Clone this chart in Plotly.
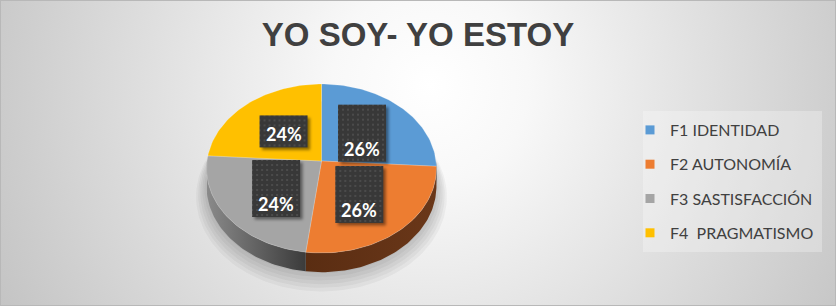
import math
import base64
import plotly.graph_objects as go

# ---------------- data ----------------
categories = ["F1 IDENTIDAD", "F2 AUTONOMÍA", "F3 SASTISFACCIÓN", "F4  PRAGMATISMO"]
values = [26, 26, 24, 24]
title_text = "YO SOY- YO ESTOY"

# ---------------- styles ----------------
top_colors = ["#5b9bd5", "#ed7d31", "#a5a5a5", "#ffc000"]
side_scales = [
    [[0, "#2f6493"], [1, "#264f75"]],
    [[0, "#5a2d12"], [1, "#6a3719"]],
    [[0, "#8a8a8a"], [1, "#3b3b3b"]],
    [[0, "#b38600"], [1, "#8a6700"]],
]
label_heights = [53, 53, 53, 28]
LABEL_W, LABEL_PAD = 44, 2

W, H = 836, 306
CX, CY = 321.5, 161.0      # pie centre (pixel-like axis units)
RA, RB = 114.5, 83.8        # radii of the tilted disc
K = 0.0888                  # perspective factor
DEPTH = 17.5                # thickness of the disc


def proj(theta_deg, r=1.0, drop=0.0):
    t = math.radians(theta_deg)
    u = r * math.sin(t)
    v = -r * math.cos(t)
    d = 1 - K * v
    return CX + RA * u / d, CY + (RB * v + drop) / d


def arc(a0, a1, r=1.0, drop=0.0, n=None):
    if n is None:
        n = max(2, int(abs(a1 - a0) / 1.5) + 2)
    pts = [proj(a0 + (a1 - a0) * i / (n - 1), r, drop) for i in range(n)]
    return [p[0] for p in pts], [p[1] for p in pts]


def box_svg(w, h):
    sw, sh = w + 10, h + 10
    s = (
        f'<svg xmlns="http://www.w3.org/2000/svg" width="{sw}" height="{sh}" '
        f'viewBox="0 0 {sw} {sh}">'
        '<defs>'
        '<filter id="b" x="-20%" y="-20%" width="140%" height="140%">'
        '<feGaussianBlur stdDeviation="1.6"/></filter>'
        '<pattern id="p" width="5" height="5" patternUnits="userSpaceOnUse">'
        '<rect width="5" height="5" fill="#383838"/>'
        '<rect x="1" y="1" width="2" height="2" fill="#4b4b4b"/>'
        '</pattern></defs>'
        f'<rect x="4.5" y="4.5" width="{w}" height="{h}" fill="rgba(0,0,0,0.45)" '
        'filter="url(#b)"/>'
        f'<rect x="2" y="2" width="{w}" height="{h}" fill="url(#p)"/>'
        '</svg>'
    )
    return "data:image/svg+xml;base64," + base64.b64encode(s.encode()).decode()


total = float(sum(values))
angles = []
acc = 0.0
for v in values:
    a0 = 360.0 * acc / total
    acc += v
    a1 = 360.0 * acc / total
    angles.append((a0, a1))

fig = go.Figure()

# soft shadow under the disc
for i in range(6):
    xs, ys = arc(0, 360, r=1.0 + 0.018 * i, drop=DEPTH + 1 + 1.6 * i, n=180)
    fig.add_trace(go.Scatter(x=xs, y=ys, mode="lines", fill="toself",
                             fillcolor="rgba(0,0,0,0.04)", line=dict(width=0),
                             hoverinfo="skip", showlegend=False))

# sides (front half of the disc)
for i, (a0, a1) in enumerate(angles):
    s0, s1 = max(a0, 90.0), min(a1, 270.0)
    if s1 <= s0:
        continue
    tx, ty = arc(s0, s1)
    bx, by = arc(s0, s1, drop=DEPTH)
    fig.add_trace(go.Scatter(
        x=tx + bx[::-1], y=ty + by[::-1], mode="lines", fill="toself",
        fillgradient=dict(type="horizontal", colorscale=side_scales[i]),
        line=dict(width=0), hoverinfo="skip", showlegend=False))

# top faces
for i, (a0, a1) in enumerate(angles):
    ax, ay = arc(a0, a1)
    fig.add_trace(go.Scatter(
        x=[CX] + ax + [CX], y=[CY] + ay + [CY], mode="lines", fill="toself",
        fillcolor=top_colors[i], line=dict(width=0.6, color="rgba(255,255,255,0.35)"),
        name=categories[i], hoverinfo="name", showlegend=False))

# legend entries
for i, c in enumerate(categories):
    fig.add_trace(go.Scatter(
        x=[None], y=[None], mode="markers", name=c, legendgroup=c,
        marker=dict(symbol="square", size=9, color=top_colors[i])))

# background gradient
svg = (
    f'<svg xmlns="http://www.w3.org/2000/svg" width="{W}" height="{H}" '
    f'viewBox="0 0 {W} {H}" preserveAspectRatio="none">'
    '<defs><radialGradient id="g" gradientUnits="userSpaceOnUse" '
    'cx="430" cy="85" r="490">'
    '<stop offset="0" stop-color="#ffffff"/>'
    '<stop offset="0.2" stop-color="#f8f8f8"/>'
    '<stop offset="1" stop-color="#c3c3c3"/>'
    '</radialGradient></defs>'
    f'<rect x="0" y="0" width="{W}" height="{H}" fill="url(#g)"/></svg>'
)
bg_src = "data:image/svg+xml;base64," + base64.b64encode(svg.encode()).decode()

images = [dict(source=bg_src, xref="paper", yref="paper", x=0, y=1,
               sizex=1, sizey=1, xanchor="left", yanchor="top",
               sizing="stretch", layer="below")]

# data labels (patterned boxes + text)
annotations = []
for i, (a0, a1) in enumerate(angles):
    lx, ly = proj((a0 + a1) / 2.0, 0.5)
    pct = f"{round(100 * values[i] / total)}%"
    bw = LABEL_W + 2 * LABEL_PAD
    bh = label_heights[i] + 2 * LABEL_PAD
    images.append(dict(source=box_svg(bw, bh), xref="x", yref="y",
                       x=lx + 3, y=ly + 3, sizex=bw + 10, sizey=bh + 10,
                       xanchor="center", yanchor="middle", sizing="stretch",
                       layer="above"))
    annotations.append(dict(
        x=lx, y=ly, xref="x", yref="y", text=pct, showarrow=False,
        width=LABEL_W, height=label_heights[i], borderpad=LABEL_PAD,
        valign="bottom",
        font=dict(family="Lato", size=18, color="#ffffff", weight="bold")))

fig.update_layout(
    width=W, height=H,
    margin=dict(l=0, r=0, t=0, b=0),
    paper_bgcolor="#d8d8d8", plot_bgcolor="rgba(0,0,0,0)",
    xaxis=dict(range=[0, W], visible=False, fixedrange=True),
    yaxis=dict(range=[H, 0], visible=False, fixedrange=True),
    title=dict(text=title_text, x=0.5, xanchor="center",
               y=1 - 34 / H, yanchor="middle",
               font=dict(family="Liberation Sans", size=33, color="#404040",
                         weight="bold")),
    legend=dict(x=630 / W, y=1 - 113 / H, xanchor="left", yanchor="top",
                bgcolor="rgba(0,0,0,0)", traceorder="grouped",
                tracegroupgap=10.5,
                font=dict(family="Lato", size=16, color="#404040")),
    images=images,
    shapes=[
        dict(type="rect", xref="paper", yref="paper",
             x0=643 / W, x1=822 / W, y0=1 - 252 / H, y1=1 - 111 / H,
             fillcolor="rgba(255,255,255,0.28)", line=dict(width=0),
             layer="below"),
        dict(type="rect", xref="paper", yref="paper", x0=0, x1=1, y0=0, y1=1,
             fillcolor="rgba(0,0,0,0)", line=dict(color="#b8b8b8", width=2),
             layer="above"),
    ],
    annotations=annotations,
    showlegend=True,
)

fig.write_html("out.html",
               config={"displayModeBar": False},
               post_script="document.body.style.margin='0px';"
                           "document.body.style.overflow='hidden';")
